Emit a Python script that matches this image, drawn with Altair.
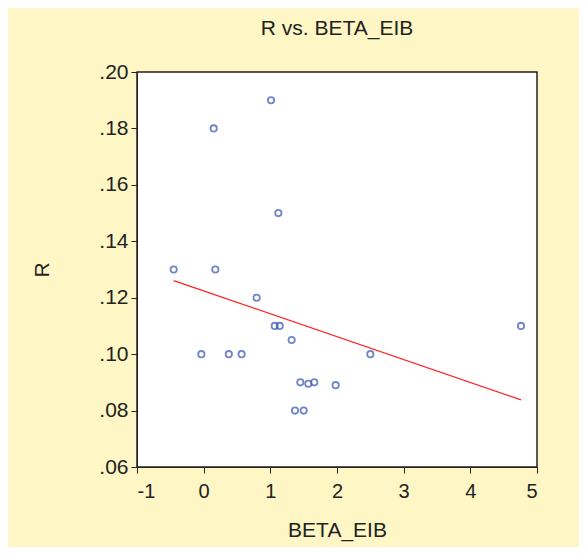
import altair as alt
import pandas as pd

beta_eib = [-0.45, 0.175, 0.795, 1.066, 1.14, 1.32, -0.035, 0.377, 0.569, 1.45,
            1.57, 1.66, 1.98, 1.37, 1.50, 2.50, 4.76, 1.01, 0.15, 1.12]
r_vals = [0.130, 0.130, 0.120, 0.110, 0.110, 0.105, 0.100, 0.100, 0.100, 0.090,
          0.0895, 0.090, 0.089, 0.080, 0.080, 0.100, 0.110, 0.190, 0.180, 0.150]
y_ticks = [0.06, 0.08, 0.10, 0.12, 0.14, 0.16, 0.18, 0.20]
x_ticks = [-1, 0, 1, 2, 3, 4, 5]

df = pd.DataFrame({"BETA_EIB": beta_eib, "R": r_vals})

font = "Liberation Sans"
txt = "#222222"

x_enc = alt.X("BETA_EIB:Q",
              scale=alt.Scale(domain=[-1, 5], nice=False, zero=False),
              axis=alt.Axis(values=x_ticks, title="BETA_EIB", grid=False,
                            labelExpr="'' + datum.value",
                            tickSize=6, labelPadding=8, titlePadding=18,
                            domainColor=txt, tickColor=txt,
                            labelFontSize=20, titleFontSize=21,
                            labelColor=txt, titleColor=txt,
                            titleFontWeight="normal", labelFont=font, titleFont=font))
y_enc = alt.Y("R:Q",
              scale=alt.Scale(domain=[0.06, 0.20], nice=False, zero=False),
              axis=alt.Axis(values=y_ticks, title="R", grid=False,
                            labelExpr="replace(format(datum.value, '.2f'), '0.', '.')",
                            tickSize=6, labelPadding=3, titlePadding=46,
                            domainColor=txt, tickColor=txt,
                            labelFontSize=21, titleFontSize=21,
                            labelColor=txt, titleColor=txt,
                            titleFontWeight="normal", labelFont=font, titleFont=font))

points = alt.Chart(df).mark_point(shape="circle", filled=False, color="#3553B3",
                                  size=40, strokeWidth=1.8).encode(x=x_enc, y=y_enc)

line = alt.Chart(df).transform_regression("BETA_EIB", "R").mark_line(
    color="#FF2020", strokeWidth=1.3).encode(x="BETA_EIB:Q", y="R:Q")

chart = alt.layer(points, line).properties(
    width=400, height=395,
    title=alt.TitleParams("R vs. BETA_EIB", fontSize=21, font=font,
                          fontWeight="normal", color=txt, offset=22,
                          anchor="middle"),
    autosize=alt.AutoSizeParams(type="none"),
    padding={"left": 129, "top": 64, "right": 42, "bottom": 80},
    background="#FEF6C4",
).configure_view(stroke="#222222", strokeWidth=1.5, fill="white")

chart.save("out.html", embed_options={"renderer": "svg", "actions": False})
